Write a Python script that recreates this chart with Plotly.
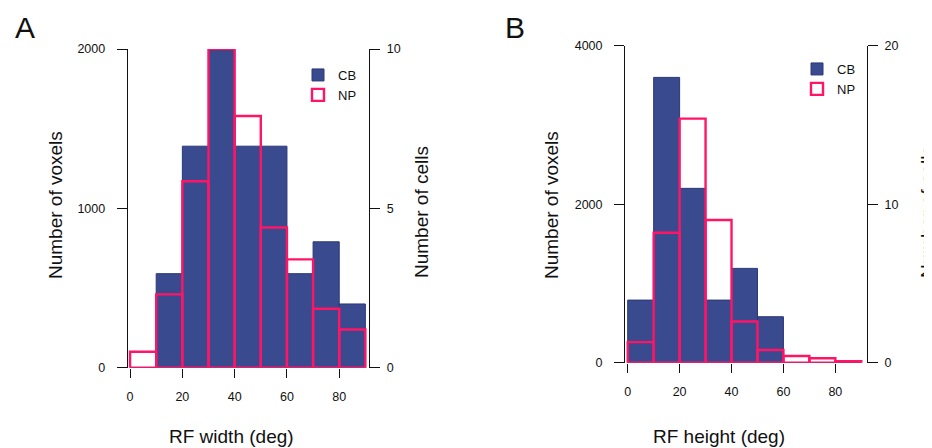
import plotly.graph_objects as go

# ---- data ----
bin_centers = [5, 15, 25, 35, 45, 55, 65, 75, 85]
bin_width = 10

cb_width = [0, 590, 1390, 1990, 1390, 1390, 590, 790, 400]
np_width = [0.5, 2.3, 5.85, 10, 7.9, 4.4, 3.4, 1.85, 1.2]

cb_height = [790, 3600, 2200, 790, 1190, 580, 0, 0, 0]
np_height = [1.3, 8.2, 15.4, 9.0, 2.6, 0.8, 0.42, 0.28, 0.1]

x_ticks = [0, 20, 40, 60, 80]
yA_ticks = [0, 1000, 2000]
yA2_ticks = [0, 5, 10]
yB_ticks = [0, 2000, 4000]
yB2_ticks = [0, 10, 20]

CB_COLOR = "#3A4A8E"
CB_EDGE = "#2B3878"
NP_COLOR = "#FF1466"
FONT = "Arial, Liberation Sans, sans-serif"

# page is 932x448; the browser body adds an 8px margin, so the figure is 8px smaller
OFF = 8
W, H = 932 - OFF, 448 - OFF

def px(x):
    return (x - OFF) / W

def py(y):
    return 1 - (y - OFF) / H

fig = go.Figure()

def add_pair(cb, npv, xa, ya, ya2, legend):
    fig.add_trace(go.Bar(x=bin_centers, y=cb, width=bin_width, name="CB",
                         marker=dict(color=CB_COLOR, line=dict(color=CB_EDGE, width=1)),
                         xaxis=xa, yaxis=ya, legend=legend, cliponaxis=False))
    fig.add_trace(go.Bar(x=bin_centers, y=npv, width=bin_width, name="NP",
                         marker=dict(color="rgba(255,255,255,0)", line=dict(color=NP_COLOR, width=2.4)),
                         xaxis=xa, yaxis=ya2, legend=legend, cliponaxis=False))

add_pair(cb_width, np_width, "x", "y", "y2", "legend")
add_pair(cb_height, np_height, "x2", "y3", "y4", "legend2")

tickfont = dict(family=FONT, size=12.5, color="#111")
xcommon = dict(showgrid=False, zeroline=False, showline=False, ticks="outside",
               ticklen=9, tickwidth=1, tickcolor="#111", tickvals=x_ticks,
               tickfont=tickfont, ticklabelstandoff=8, automargin=False)
ycommon = dict(showgrid=False, zeroline=False, showline=True, linecolor="#111",
               linewidth=1, ticks="outside", ticklen=10, tickwidth=1,
               tickcolor="#111", tickfont=tickfont, automargin=False)

fig.update_layout(
    template="none",
    width=W, height=H,
    margin=dict(l=0, r=0, t=0, b=0, autoexpand=False),
    paper_bgcolor="white", plot_bgcolor="white",
    barmode="overlay",
    xaxis=dict(domain=[px(127.7), px(369.3)], range=[-0.9, 91.5], anchor="y", **xcommon),
    xaxis2=dict(domain=[px(625), px(867)], range=[-1.04, 92.2], anchor="y3", **xcommon),
    yaxis=dict(domain=[py(367.7), py(49)], range=[0, 2000], anchor="x",
               tickvals=yA_ticks, ticklabelstandoff=9, **ycommon),
    yaxis2=dict(domain=[py(367.7), py(49)], range=[0, 10], anchor="x", overlaying="y",
                side="right", tickvals=yA2_ticks, ticklabelstandoff=4, **ycommon),
    yaxis3=dict(domain=[py(362.7), py(45.7)], range=[0, 4000], anchor="x2",
                tickvals=yB_ticks, ticklabelstandoff=9, **ycommon),
    yaxis4=dict(domain=[py(362.7), py(45.7)], range=[0, 20], anchor="x2", overlaying="y3",
                side="right", tickvals=yB2_ticks, ticklabelstandoff=4, **ycommon),
    legend=dict(x=px(298), y=py(60), xanchor="left", yanchor="top",
                bgcolor="rgba(0,0,0,0)", font=dict(family=FONT, size=13, color="#111"),
                itemwidth=30, tracegroupgap=0),
    legend2=dict(x=px(797), y=py(54), xanchor="left", yanchor="top",
                 bgcolor="rgba(0,0,0,0)", font=dict(family=FONT, size=13, color="#111"),
                 itemwidth=30, tracegroupgap=0),
    showlegend=True,
)

title_font = dict(family=FONT, size=19, color="#111")
annotations = [
    dict(text="Number of voxels", x=px(55), y=py(205), textangle=-90),
    dict(text="Number of cells", x=px(421), y=py(212), textangle=-90),
    dict(text="RF width (deg)", x=px(231), y=py(436), textangle=0),
    dict(text="Number of voxels", x=px(551), y=py(205), textangle=-90),
    dict(text="Number of cells", x=px(927), y=py(212), textangle=-90),
    dict(text="RF height (deg)", x=px(719), y=py(436), textangle=0),
]
for a in annotations:
    fig.add_annotation(xref="paper", yref="paper", showarrow=False,
                       xanchor="center", yanchor="middle", font=title_font, **a)

for lab, xx in [("A", 25), ("B", 515.5)]:
    fig.add_annotation(text=lab, xref="paper", yref="paper", x=px(xx), y=py(28),
                       showarrow=False, xanchor="center", yanchor="middle",
                       font=dict(family=FONT, size=30, color="#111"))

fig.write_html("out.html")
